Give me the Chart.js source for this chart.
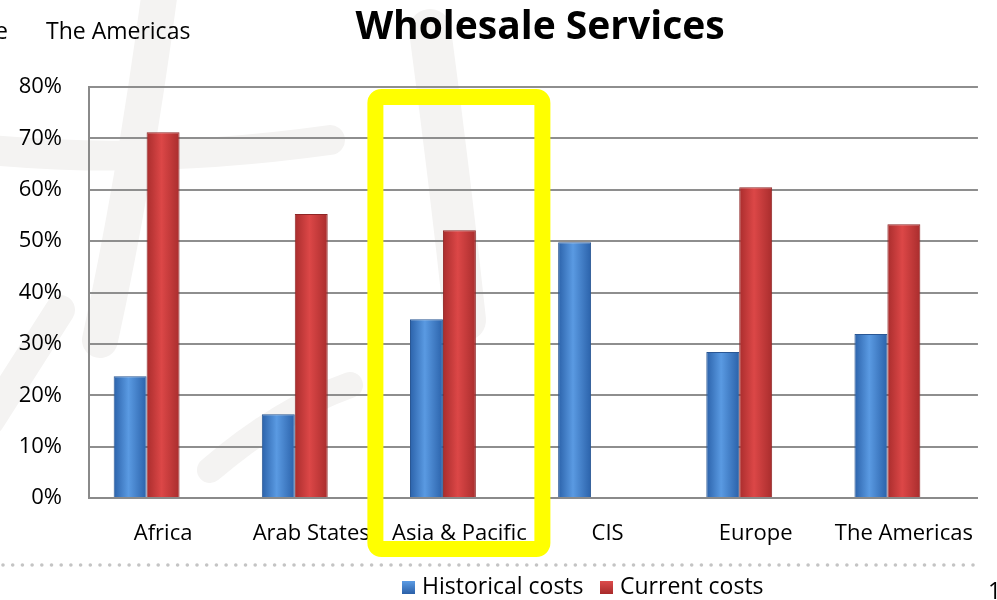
<!DOCTYPE html>
<html lang="en">
  <head>
    <meta charset="UTF-8">
    <title>Wholesale Services</title>
    <style>
      html, body { margin: 0; padding: 0; background: #fff; }
      #wrap { position: relative; width: 997px; height: 600px; }
    </style>
  </head>
  <body>
    <div id="wrap">
      <canvas id="myChart" width="997" height="600"></canvas>
    </div>

    <script src="https://cdn.jsdelivr.net/npm/chart.js"></script>
    <script>
      // chart values
      const categories = ['Africa', 'Arab States', 'Asia & Pacific', 'CIS', 'Europe', 'The Americas'];
      const historicalCosts = [23.7, 16.3, 34.8, 49.8, 28.4, 31.9];
      const currentCosts = [71.2, 55.3, 52.1, null, 60.5, 53.3];
      const yTickValues = [0, 10, 20, 30, 40, 50, 60, 70, 80];
      const seriesNames = ['Historical costs', 'Current costs'];
      const highlighted = 'Asia & Pacific';

      const FONT = '"Open Sans", "Liberation Sans", sans-serif';
      // three slots per category: two bars plus the empty "depth" slot of the 3d original,
      // which pushes the bar pair left of the label like in Excel
      const SLOTS = 3;
      const CAT_PCT = 0.667;

      // horizontal shading on each bar, like the 3d look of the original
      function barFill(dark, light, slot) {
        return (c) => {
          const ch = c.chart, x = ch.scales.x;
          if (!x || c.dataIndex === undefined) return dark;
          const cw = (x.right - x.left) / categories.length * CAT_PCT;
          const w = cw / SLOTS;
          const cx = x.getPixelForValue(c.dataIndex);
          if (!Number.isFinite(w) || !Number.isFinite(cx) || w <= 0) return dark;
          const x0 = cx - cw / 2 + slot * w;
          const g = ch.ctx.createLinearGradient(x0, 0, x0 + w, 0);
          g.addColorStop(0, dark);
          g.addColorStop(0.45, light);
          g.addColorStop(1, dark);
          return g;
        };
      }

      const backdrop = {
        id: 'backdrop',
        beforeDraw(chart) {
          const c = chart.ctx;
          c.save();
          c.fillStyle = '#fff';
          c.fillRect(0, 0, chart.width, chart.height);
          // faint watermark strokes
          c.strokeStyle = '#f4f3f2';
          c.lineCap = 'round';
          c.lineWidth = 36;
          c.beginPath();
          c.moveTo(160, -10); c.quadraticCurveTo(135, 180, 100, 340);
          c.stroke();
          c.lineWidth = 30;
          c.beginPath();
          c.moveTo(-10, 150); c.quadraticCurveTo(150, 165, 330, 140);
          c.stroke();
          c.beginPath();
          c.moveTo(-10, 420); c.lineTo(60, 310);
          c.stroke();
          c.lineWidth = 42;
          c.beginPath();
          c.moveTo(430, 30); c.quadraticCurveTo(450, 180, 465, 320);
          c.stroke();
          c.lineWidth = 26;
          c.beginPath();
          c.moveTo(210, 470); c.quadraticCurveTo(280, 410, 350, 385);
          c.stroke();
          c.restore();
        }
      };

      const decorations = {
        id: 'decorations',
        afterDraw(chart) {
          const c = chart.ctx;
          const x = chart.scales.x;
          c.save();

          // title
          c.fillStyle = '#000';
          c.font = 'bold 39px ' + FONT;
          c.textAlign = 'center';
          c.textBaseline = 'middle';
          c.fillText('Wholesale Services', 540, 28);

          // leftover slide text at top left
          c.font = '23px ' + FONT;
          c.textAlign = 'left';
          c.fillText('e', -5, 32);
          c.fillText('The Americas', 46, 32);

          // yellow highlight box round one category
          const hx = x.getPixelForValue(categories.indexOf(highlighted));
          c.strokeStyle = '#ffff00';
          c.lineWidth = 16;
          c.beginPath();
          c.roundRect(hx - 84, 97, 167, 452, 6);
          c.stroke();

          // dotted separator
          c.fillStyle = '#c4c4c4';
          for (let dx = 3; dx <= 982; dx += 9.7) {
            c.beginPath();
            c.arc(dx, 565, 1.8, 0, Math.PI * 2);
            c.fill();
          }

          // legend
          const items = [
            { label: seriesNames[0], dark: '#2a60a8', light: '#5b9be4', x: 402 },
            { label: seriesNames[1], dark: '#a82a2a', light: '#dc4c4c', x: 600 }
          ];
          c.font = '23px ' + FONT;
          c.textBaseline = 'middle';
          items.forEach(it => {
            const g = c.createLinearGradient(0, 581, 0, 594);
            g.addColorStop(0, it.light);
            g.addColorStop(1, it.dark);
            c.fillStyle = g;
            c.fillRect(it.x, 581, 13, 13);
            c.fillStyle = '#000';
            c.fillText(it.label, it.x + 20, 587);
          });

          // page number, cut by the edge
          c.fillText('1', 988, 592);
          c.restore();
        }
      };

      const ctx = document.getElementById('myChart');

      const chart = new Chart(ctx, {
        type: 'bar',
        data: {
          labels: categories,
          datasets: [{
            label: seriesNames[0],
            data: historicalCosts,
            backgroundColor: barFill('#2b62aa', '#5a9ae2', 0),
            borderColor: '#2a5794',
            borderWidth: 1,
            borderSkipped: 'start',
            categoryPercentage: CAT_PCT,
            barPercentage: 1
          }, {
            label: seriesNames[1],
            data: currentCosts,
            backgroundColor: barFill('#a92d2d', '#dc4747', 1),
            borderColor: '#8f2626',
            borderWidth: 1,
            borderSkipped: 'start',
            categoryPercentage: CAT_PCT,
            barPercentage: 1
          }, {
            // empty depth slot, draws nothing
            label: '',
            data: [],
            categoryPercentage: CAT_PCT,
            barPercentage: 1
          }]
        },
        options: {
          responsive: false,
          animation: false,
          layout: { padding: { left: 0, right: 13, top: 87, bottom: 38 } },
          plugins: {
            legend: { display: false },
            title: { display: false },
            tooltip: { enabled: false }
          },
          scales: {
            x: {
              grid: { display: false, drawTicks: false },
              border: { color: '#8a8a8a', width: 2 },
              ticks: {
                color: '#000',
                font: { family: FONT, size: 22 },
                padding: 23,
                maxRotation: 0,
                autoSkip: false
              },
              afterFit(s) { s.height = 64; }
            },
            y: {
              min: 0,
              max: 80,
              afterBuildTicks(s) { s.ticks = yTickValues.map(v => ({ value: v })); },
              grid: { color: '#8e8e8e', lineWidth: 2, drawTicks: false },
              border: { color: '#8a8a8a', width: 2 },
              ticks: {
                color: '#000',
                font: { family: FONT, size: 22 },
                padding: 27,
                callback: v => v + '%'
              },
              afterFit(s) { s.width = 89; }
            }
          }
        },
        plugins: [backdrop, decorations]
      });
      // second pass so the bar shading sees the laid-out scales
      chart.update('none');
    </script>
  </body>
</html>
